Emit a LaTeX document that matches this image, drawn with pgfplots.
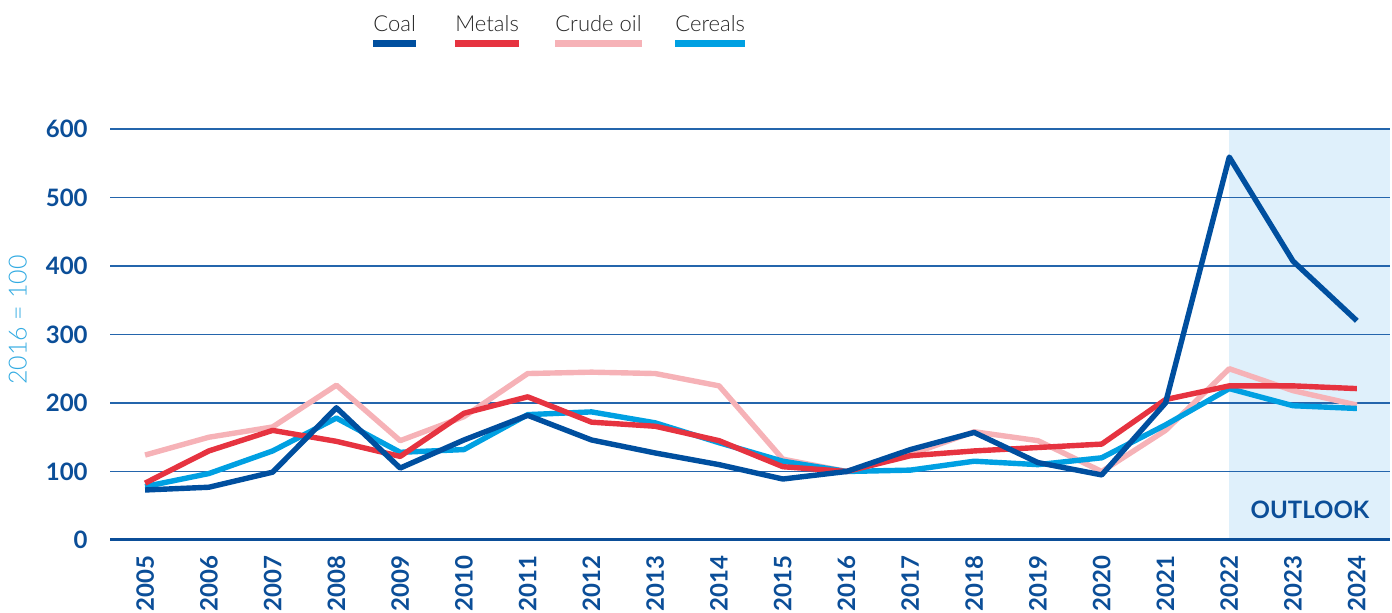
\documentclass[border=0pt]{standalone}
\usepackage{fontspec}
\setmainfont{Lato}
\newfontfamily\lightfont{Lato Light}
\usepackage{pgfplots}
\pgfplotsset{compat=1.18}
\usepackage{pgfplotstable}

\definecolor{coalc}{HTML}{004F9F}
\definecolor{metalc}{HTML}{E63340}
\definecolor{oilc}{HTML}{F6B2B7}
\definecolor{cerealc}{HTML}{00A0E2}
\definecolor{tickc}{HTML}{0B4E98}
\definecolor{gridc}{HTML}{2465AC}
\definecolor{shadec}{HTML}{DFF0FB}
\definecolor{labc}{HTML}{33ABE2}

% year, index 2016 = 100
\pgfplotstableread{
year coal metals oil cereals
2005 73  83  124 78
2006 77  130 150 97
2007 99  160 165 130
2008 193 144 226 178
2009 105 122 145 128
2010 146 185 180 132
2011 182 209 243 183
2012 146 172 245 187
2013 127 166 243 171
2014 110 145 225 142
2015 89  107 118 115
2016 100 100 100 100
2017 132 123 125 102
2018 157 130 158 115
2019 113 135 145 110
2020 95  140 100 120
2021 200 205 160 168
2022 559 225 250 221
2023 407 225 218 196
2024 320 221 197 192
}\prices

\begin{document}
\begin{tikzpicture}
\begin{axis}[
  at={(0,0)}, anchor=south west,
  scale only axis,
  width=640pt, height=205.5pt,
  xmin=2004.45, xmax=2024.52,
  ymin=0, ymax=600,
  clip=false,
  set layers,
  axis line style={draw=none},
  major tick length=0pt,
  xtick={2005,...,2024},
  ytick={100,200,...,600},
  extra y ticks={0},
  extra y tick style={ymajorgrids=true, grid style={tickc, line width=1.5pt}},
  ymajorgrids=true,
  grid style={gridc, line width=0.8pt},
  /pgf/number format/1000 sep={},
  /pgf/number format/assume math mode=true,
  ticklabel style={font=\fontsize{12}{14}\selectfont\bfseries, text=tickc, inner sep=0pt},
  xticklabel style={rotate=90, anchor=east},
  xticklabel shift=7.5pt,
  yticklabel shift=11pt,
  ylabel={2016 = 100},
  ylabel style={at={(axis description cs:-0.072,0.535)}, anchor=center,
                font=\fontsize{12.5}{14}\selectfont\lightfont, text=labc},
  every axis plot/.append style={line width=2.7pt, no markers, line join=round},
]
\begin{pgfonlayer}{axis background}
\fill[shadec] (axis cs:2022,0) rectangle (axis cs:2024.52,600);
\end{pgfonlayer}

\addplot[oilc] table[x=year, y=oil] {\prices};
\addplot[cerealc] table[x=year, y=cereals] {\prices};
\addplot[metalc] table[x=year, y=metals] {\prices};
\addplot[coalc] table[x=year, y=coal] {\prices};

\node[font=\fontsize{12}{14}\selectfont\bfseries, text=tickc]
  at (rel axis cs:0.9375,0.073) {OUTLOOK};

% legend: label above a short thick bar
\coordinate (ly) at (rel axis cs:0,1.209);
\begin{scope}[every node/.style={anchor=west, inner sep=0pt,
    font=\fontsize{11}{13}\selectfont\lightfont, text=black!85}]
\node (l1) at (rel axis cs:0.2055,1.256) {Coal};
\node (l2) at (rel axis cs:0.2695,1.256) {Metals};
\node (l3) at (rel axis cs:0.3477,1.256) {Crude oil};
\node (l4) at (rel axis cs:0.4414,1.256) {Cereals};
\end{scope}
\draw[coalc, line width=3.5pt] (l1.west |- ly) -- (l1.east |- ly);
\draw[metalc, line width=3.5pt] (l2.west |- ly) -- (l2.east |- ly);
\draw[oilc, line width=3.5pt] (l3.west |- ly) -- (l3.east |- ly);
\draw[cerealc, line width=3.5pt] (l4.west |- ly) -- (l4.east |- ly);
\end{axis}
\path[use as bounding box] (-55pt,-36.5pt) rectangle (641pt,270pt);
\end{tikzpicture}
\end{document}
